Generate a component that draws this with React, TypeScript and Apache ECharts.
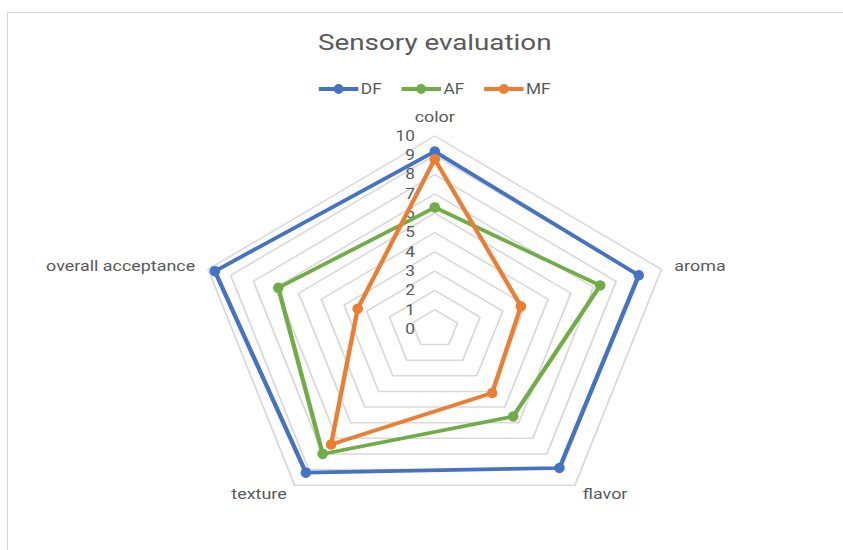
import React, { useEffect, useRef } from "react";
import * as echarts from "echarts";

// Data (clockwise order as in the reference, starting at the top)
const categories = ["color", "aroma", "flavor", "texture", "overall acceptance"];
const seriesNames = ["DF", "AF", "MF"];
const dfValues = [9.2, 9.0, 8.9, 9.2, 9.7];
const afValues = [6.3, 7.3, 5.6, 8.0, 6.9];
const mfValues = [8.8, 3.8, 4.1, 7.4, 3.4];
const axisMin = 0;
const axisMax = 10;
const axisSteps = 10;

const colors = ["#4472C4", "#70AD47", "#ED7D31"];
const textColor = "#595959";
const gridColor = "#d9d9d9";
const font = "Roboto";

// ECharts lays indicators counter-clockwise; the reference goes clockwise.
const order = [0, 4, 3, 2, 1];

const STRETCH = 1.235;
const INNER_W = 683;
const H = 550;

export default function App() {
  const ref = useRef<HTMLDivElement>(null);

  useEffect(() => {
    if (!ref.current) return;
    const chart = echarts.init(ref.current, undefined, { renderer: "svg" });
    const allSeries = [dfValues, afValues, mfValues];
    const legendIcon =
      "path://M0,3.1L32,3.1L32,6.9L0,6.9Z M12,5A4,5 0 1 1 20,5A4,5 0 1 1 12,5Z";

    const option: any = {
      animation: false,
      backgroundColor: "transparent",
      color: colors,
      textStyle: { fontFamily: font },
      title: {
        text: "Sensory evaluation",
        left: "center",
        top: 31,
        padding: 0,
        textStyle: {
          fontFamily: font,
          fontSize: 22.5,
          fontWeight: "normal",
          color: textColor,
        },
      },
      legend: {
        data: seriesNames.map((n) => ({ name: n, icon: legendIcon })),
        left: "center",
        top: 77,
        itemWidth: 32,
        itemHeight: 10,
        itemGap: 16,
        textStyle: {
          fontFamily: font,
          fontSize: 14,
          color: textColor,
          padding: [0, 0, 0, -3],
        },
      },
      radar: {
        center: ["50%", 329],
        radius: 193,
        startAngle: 90,
        shape: "polygon",
        splitNumber: axisSteps,
        axisName: {
          color: textColor,
          fontSize: 14.5,
          fontFamily: font,
        },
        nameGap: 11,
        axisLine: { show: false },
        axisTick: { show: false },
        axisLabel: { show: false },
        splitArea: { show: false },
        splitLine: { lineStyle: { color: gridColor, width: 1.5 } },
        indicator: order.map((i, k) => {
          const ind: any = { name: categories[i], min: axisMin, max: axisMax };
          if (k === 0) {
            ind.axisLabel = {
              show: true,
              color: textColor,
              fontSize: 14,
              fontFamily: font,
              margin: 16,
              showMinLabel: true,
              showMaxLabel: true,
            };
          }
          return ind;
        }),
      },
      series: [
        {
          type: "radar",
          symbol: "circle",
          symbolSize: [8.5, 10.5],
          data: allSeries.map((vals, s) => ({
            name: seriesNames[s],
            value: order.map((i) => vals[i]),
            itemStyle: { color: colors[s] },
            lineStyle: { color: colors[s], width: 3.6 },
          })),
        },
      ],
    };
    chart.setOption(option);
    return () => chart.dispose();
  }, []);

  return (
    <div
      style={{
        position: "fixed",
        left: 0,
        top: 0,
        width: 843,
        height: H,
        overflow: "hidden",
        background: "#ffffff",
      }}
    >
      <div
        style={{
          position: "absolute",
          left: 7,
          top: 12,
          width: 900,
          height: 600,
          borderTop: "1px solid #d4d4d4",
          borderLeft: "1px solid #d4d4d4",
        }}
      />
      <div
        ref={ref}
        style={{
          position: "absolute",
          left: 434.5 - (INNER_W * STRETCH) / 2,
          top: 0,
          width: INNER_W,
          height: H,
          transform: `scaleX(${STRETCH})`,
          transformOrigin: "0 0",
        }}
      />
    </div>
  );
}
